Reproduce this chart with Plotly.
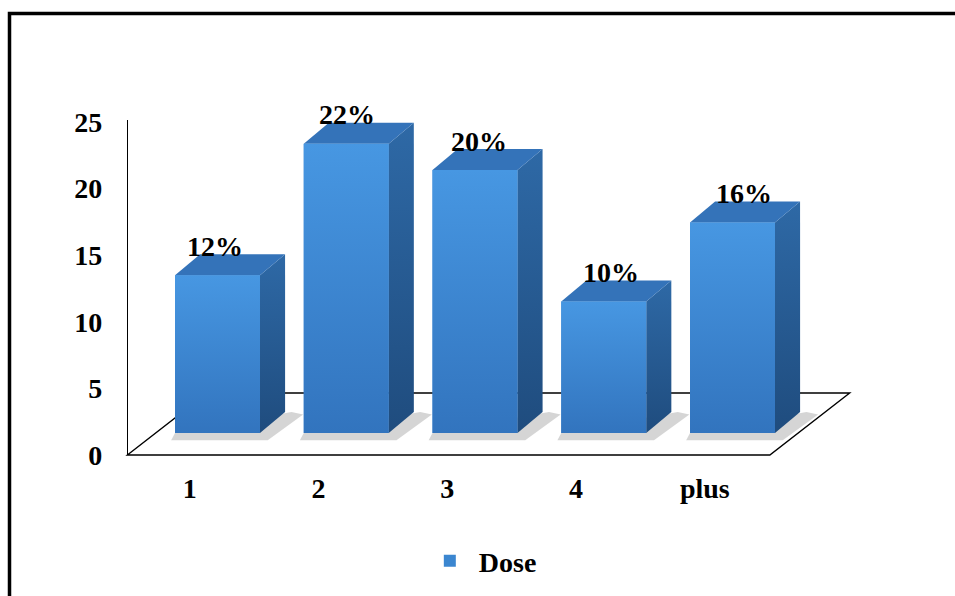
import plotly.graph_objects as go

# ---- data ----
categories = ["1", "2", "3", "4", "plus"]
dose_values = [12, 22, 20, 10, 16]
value_labels = ["12%", "22%", "20%", "10%", "16%"]
y_tick_values = [0, 5, 10, 15, 20, 25]

# ---- style / geometry constants (not data) ----
W, H = 955, 596
HALF = 0.33          # half width of bar front face (category units)
DX = 0.195           # depth shift of bars in x (category units)
DY = 1.6             # depth shift of bars in y (value units)
FLOOR_FRONT, FLOOR_BACK = -1.67, 3.04
FLOOR_X0, FLOOR_X1, FLOOR_SHIFT = -0.70, 4.29, 0.62
FONT = dict(family="Liberation Serif", size=28, color="black", weight="bold")

xs = list(range(len(categories)))
fig = go.Figure()

# legend / base bars
fig.add_trace(go.Bar(x=xs, y=dose_values, width=2 * HALF, name="Dose",
                     marker=dict(color="#3b86d0", line=dict(width=0)),
                     hoverinfo="skip", showlegend=True))

# shadows on floor
for x, v in zip(xs, dose_values):
    x0, x1 = x - HALF, x + HALF
    fig.add_trace(go.Scatter(
        x=[x0 - 0.03, x1 + 0.06, x1 + DX + 0.14, x1 + DX + 0.05, x0],
        y=[-0.55, -0.55, DY - 0.2, DY, 0],
        fill="toself", fillcolor="rgba(150,150,150,0.4)", mode="none",
        showlegend=False, hoverinfo="skip"))

for x, v in zip(xs, dose_values):
    x0, x1 = x - HALF, x + HALF
    # side face
    fig.add_trace(go.Scatter(
        x=[x1, x1, x1 + DX, x1 + DX, x1], y=[0, v, v + DY, DY, 0],
        fill="toself", mode="none", showlegend=False, hoverinfo="skip",
        fillgradient=dict(type="vertical",
                          colorscale=[[0, "#1f4c7e"], [1, "#2e69a6"]])))
    # top face
    fig.add_trace(go.Scatter(
        x=[x0, x1, x1 + DX, x0 + DX, x0], y=[v, v, v + DY, v + DY, v],
        fill="toself", fillcolor="#3473b9", mode="none",
        showlegend=False, hoverinfo="skip"))
    # front face
    fig.add_trace(go.Scatter(
        x=[x0, x1, x1, x0, x0], y=[0, 0, v, v, 0],
        fill="toself", mode="none", showlegend=False, hoverinfo="skip",
        fillgradient=dict(type="vertical",
                          colorscale=[[0, "#3274be"], [1, "#4797e2"]])))

# value labels (slight perspective drift to the right)
for x, v, t in zip(xs, dose_values, value_labels):
    fig.add_annotation(x=x + (3.5 * x - 3) / 128.75, y=v + 2.2, text=t,
                       showarrow=False, font=FONT,
                       xanchor="center", yanchor="middle")

# invisible trace to hold the tick axis (y2)
fig.add_trace(go.Scatter(x=[None], y=[None], yaxis="y2", showlegend=False,
                         hoverinfo="skip"))

# floor
fig.add_shape(type="path", layer="below", xref="x", yref="y",
              path=(f"M {FLOOR_X0},{FLOOR_FRONT} L {FLOOR_X1},{FLOOR_FRONT} "
                    f"L {FLOOR_X1 + FLOOR_SHIFT},{FLOOR_BACK} "
                    f"L {FLOOR_X0 + FLOOR_SHIFT},{FLOOR_BACK} Z"),
              fillcolor="white", line=dict(color="black", width=1.4))

# outer frame
fig.add_shape(type="rect", xref="paper", yref="paper",
              x0=9.5 / W, x1=1.05, y0=-0.2, y1=1 - 13.5 / H,
              line=dict(color="black", width=3.5), layer="above")

fig.update_layout(
    width=W, height=H, autosize=False,
    margin=dict(l=0, r=0, t=0, b=0, pad=0, autoexpand=False),
    paper_bgcolor="white", plot_bgcolor="rgba(0,0,0,0)",
    font=FONT,
    xaxis=dict(range=[-217.5 / 128.75, (W - 217.5) / 128.75],
               tickvals=[x - 0.215 for x in xs], ticktext=categories,
               anchor="free", position=(H - 469) / H,
               showgrid=False, zeroline=False, showline=False, ticks="",
               tickfont=FONT, fixedrange=True),
    yaxis=dict(range=[-(H - 433) / 13.15, 433 / 13.15], visible=False,
               fixedrange=True),
    yaxis2=dict(domain=[(H - 455) / H, (H - 120) / H],
                range=[0, 335 / 13.32], anchor="free", position=127 / W,
                tickvals=y_tick_values, showline=True, linecolor="black",
                linewidth=1.3, showgrid=False, zeroline=False, ticks="",
                ticklabelstandoff=19, tickfont=FONT, fixedrange=True),
    legend=dict(orientation="h", x=0.504, xanchor="center",
                y=(H - 561) / H, yanchor="middle", font=FONT,
                itemwidth=48, bgcolor="rgba(0,0,0,0)"),
    showlegend=True,
)

fig.write_html("out.html")
